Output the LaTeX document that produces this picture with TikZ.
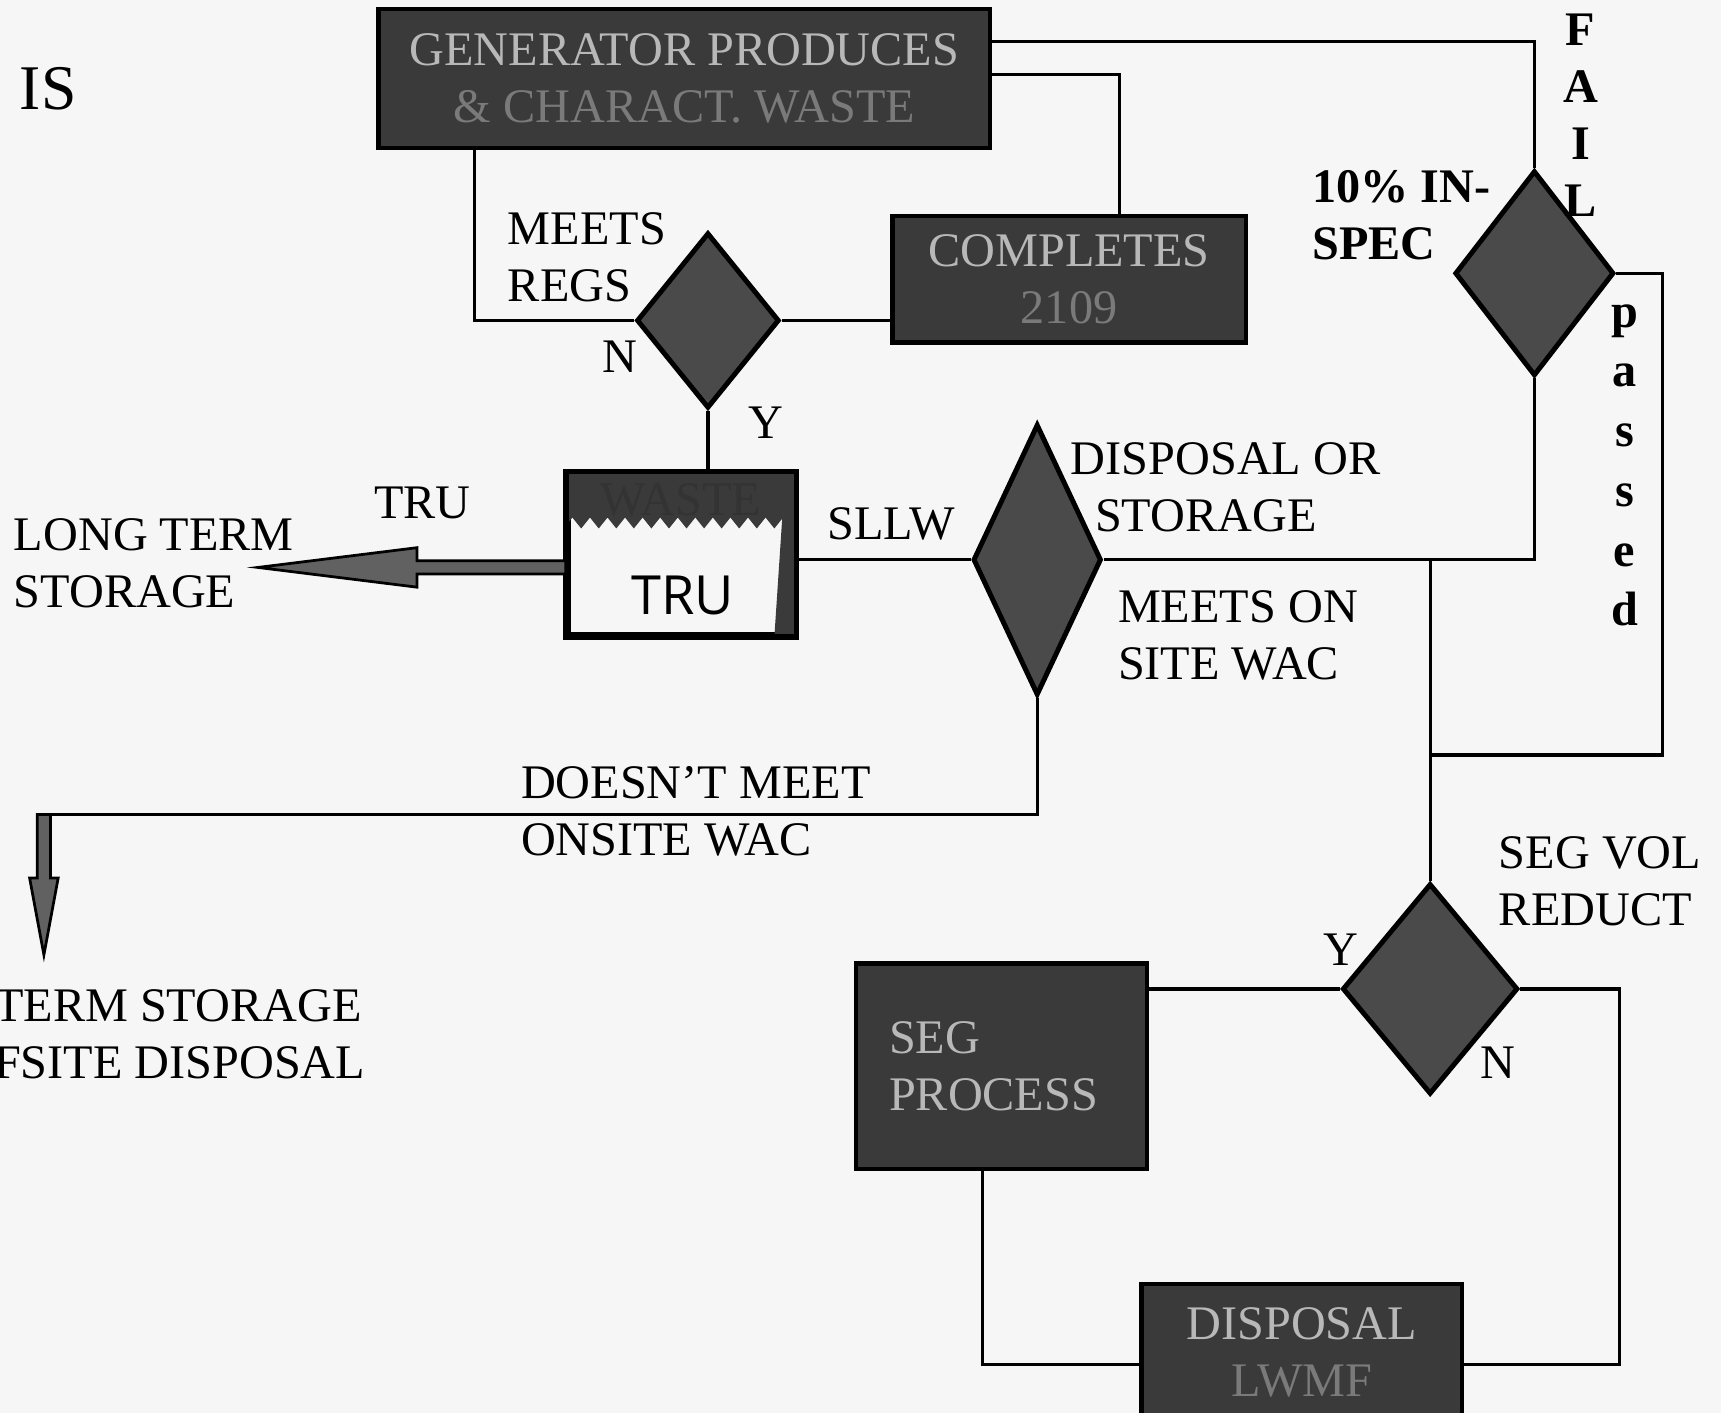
\documentclass[tikz,border=0pt]{standalone}
\usepackage{fontspec}
\setmainfont{Liberation Serif}
\newfontfamily\handfont{Open Sans}
\usetikzlibrary{shapes.geometric,calc,decorations.pathmorphing}

\definecolor{paper}{HTML}{F6F6F6}
\definecolor{boxgray}{HTML}{3A3A3A}
\definecolor{diagray}{HTML}{4A4A4A}
\definecolor{boxtext}{HTML}{B8B8B8}
\definecolor{dimtext}{HTML}{7A7A7A}

\begin{document}
\begin{tikzpicture}[x=0.1mm,y=-0.1mm,
  every node/.style={font=\fontsize{12.5}{14.8}\selectfont, inner sep=0pt},
  wire/.style={draw=black, line width=0.3mm},
  procbox/.style={draw=black, line width=0.4mm, fill=boxgray, text=boxtext, align=center},
  decision/.style={diamond, draw=black, line width=0.45mm, fill=diagray},
  fatarrow/.style={draw=black, line width=0.25mm, fill=black!62, line join=miter},
  lbl/.style={align=left},
  boldlbl/.style={font=\fontsize{12.5}{14.8}\selectfont\bfseries},
]
% page
\fill[paper] (0,0) rectangle (1568,1287);
\useasboundingbox (0,0) rectangle (1568,1287);
\clip (0,0) rectangle (1568,1287);

% corner mark
\node[font=\fontsize{16.5}{19}\selectfont] (is) at (44,81) {IS};

% process boxes
\node[procbox, minimum width=55.7mm, minimum height=12.7mm] (gen) at (623.5,71.5)
  {GENERATOR PRODUCES\\\textcolor{dimtext}{\& CHARACT. WASTE}};
\node[procbox, minimum width=32.2mm, minimum height=11.5mm] (compl) at (974,254.5)
  {COMPLETES\\\textcolor{dimtext}{2109}};
\node[procbox, minimum width=26.5mm, minimum height=18.7mm, text width=20.5mm, align=left] (segp) at (912.5,971.5)
  {SEG\\PROCESS};
\node[procbox, minimum width=29.2mm, minimum height=12.5mm] (disp) at (1186,1232.5)
  {DISPOSAL\\\textcolor{dimtext}{LWMF}};

% decisions
\node[decision, minimum width=13mm, minimum height=16mm] (regs) at (645,292) {};
\node[decision, minimum width=14.5mm, minimum height=18.7mm] (fail) at (1398,249) {};
\node[decision, minimum width=11.7mm, minimum height=24.7mm] (sllw) at (945,510) {};
\node[decision, minimum width=16mm, minimum height=19.2mm] (segvol) at (1303,901) {};

% waste drum
\node[draw=black, line width=0.5mm, minimum width=20.5mm, minimum height=14.6mm] (waste) at (620.5,505) {};
\fill[boxgray] (waste.north west) -- (waste.north east) -- ([yshift=-4.7mm]waste.north east)
  decorate[decoration={zigzag,segment length=1.6mm,amplitude=0.5mm}]{-- ([yshift=-4.7mm]waste.north west)} -- cycle;
\fill[boxgray] ([xshift=-1mm]waste.north east) -- (waste.north east) -- (waste.south east)
  -- ([xshift=-2mm]waste.south east) -- cycle;
\draw[black, line width=0.5mm] (waste.north west) rectangle (waste.south east);
\node[text=black!80] (wastelbl) at ([yshift=-2.6mm]waste.north) {WASTE};
\node[font=\handfont\fontsize{14}{17}\selectfont] (hand) at (622,543) {TRU};

% labels
\node[lbl, anchor=west] (regslbl) at (462,234) {MEETS\\REGS};
\node (regsN) at (565,325) {N};
\node (regsY) at (698,385) {Y};
\node (trulbl) at (385,458) {TRU};
\node[lbl, anchor=west] (ltslbl) at (12,513) {LONG TERM\\STORAGE};
\node (sllwlbl) at (812,477) {SLLW};
\node[lbl, anchor=west] (dsplbl) at (975,444) {DISPOSAL OR\\\hspace*{2.2mm}STORAGE};
\node[lbl, anchor=west] (onsite) at (1018,579) {MEETS ON\\SITE WAC};
\node[lbl, anchor=west] (notwac) at (474,739) {DOESN’T MEET\\ONSITE WAC};
\node[lbl, anchor=west] (offsite) at (-6,942) {TERM STORAGE\\FSITE DISPOSAL};
\node[lbl, boldlbl, anchor=west] (spec) at (1195,196) {10\% IN-\\SPEC};
\node[boldlbl, align=center, font=\fontsize{12.5}{14.75}\selectfont\bfseries] (faillbl) at (1440,105) {F\\A\\I\\L};
\node[boldlbl, align=center, font=\fontsize{12.5}{15.5}\selectfont\bfseries] (passlbl) at (1480,424) {p\\a\\s\\s\\e\\d};
\node[lbl, anchor=west] (segvollbl) at (1365,803) {SEG VOL\\REDUCT};
\node (segY) at (1222,865) {Y};
\node (segN) at (1365,968) {N};

% connectors
\draw[wire] ([yshift=3.35mm]gen.east) -| (fail.north);
\draw[wire] ([yshift=0.35mm]gen.east) -| ([xshift=4.6mm]compl.north);
\draw[wire] ([xshift=-19.15mm]gen.south) |- (regs.west);
\draw[wire] (regs.east) -- (regs.east -| compl.west);
\draw[wire] (regs.south) -- (regs.south |- waste.north);
\draw[wire] (sllw.west) -- (sllw.west -| waste.east);
\draw[wire] (fail.south) |- (sllw.east);
\draw[wire] (segvol.north |- sllw.east) -- (segvol.north);
\coordinate (j2) at (1303,688);
\draw[wire] (fail.east) -- ++(42,0) |- (j2);
\draw[wire] (segvol.west) -- (segvol.west -| segp.east);
\draw[wire] (segvol.east) -- ++(90,0) |- ([yshift=-1.05mm]disp.east);
\draw[wire] ([xshift=-1.75mm]segp.south) |- ([yshift=-1.05mm]disp.west);

% transfer to long term storage
\coordinate (ltip) at (235,517);
\draw[fatarrow] (ltip) -- ($(ltip)+(145,-18)$) -- ($(ltip)+(145,-6)$)
  -- ($(waste.west|-ltip)+(0,-6)$) -- ($(waste.west|-ltip)+(0,6)$)
  -- ($(ltip)+(145,6)$) -- ($(ltip)+(145,18)$) -- cycle;

% off-site route
\coordinate (dn) at (40,742);
\coordinate (dtip) at (40,870);
\draw[wire] (sllw.south) |- (dn);
\draw[fatarrow] (dtip) -- ($(dtip)+(-13,-70)$) -- ($(dtip)+(-6,-70)$)
  -- ($(dn)+(-6,0)$) -- ($(dn)+(6,0)$)
  -- ($(dtip)+(6,-70)$) -- ($(dtip)+(13,-70)$) -- cycle;
\end{tikzpicture}
\end{document}
